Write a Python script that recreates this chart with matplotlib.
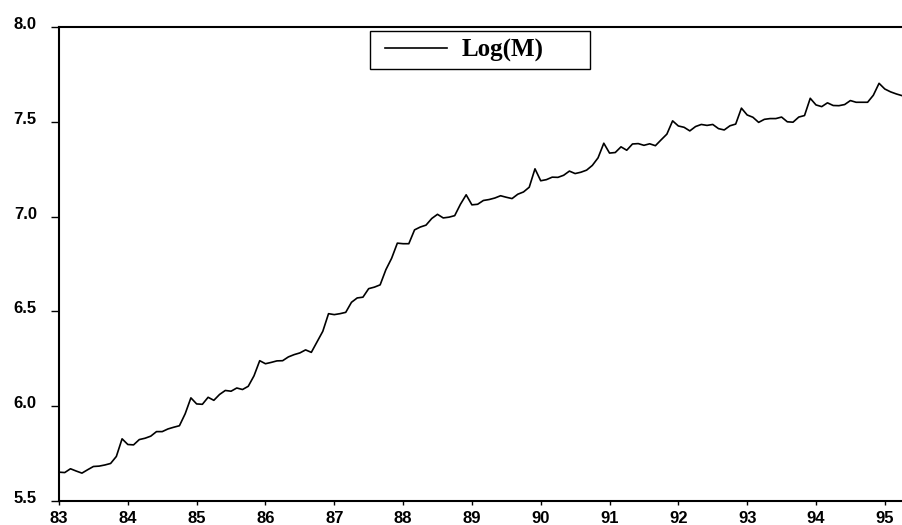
import numpy as np
import matplotlib.pyplot as plt
from matplotlib.legend_handler import HandlerLine2D
from matplotlib.transforms import ScaledTranslation

# monthly log money stock, 1983:01 onwards
start_year = 1983
log_m = [
    5.652, 5.650, 5.670, 5.658, 5.647, 5.665, 5.682, 5.684, 5.690, 5.698, 5.735, 5.828,  # 83
    5.798, 5.796, 5.824, 5.831, 5.842, 5.866, 5.866, 5.880, 5.889, 5.897, 5.960, 6.044,  # 84
    6.012, 6.010, 6.047, 6.031, 6.062, 6.083, 6.079, 6.096, 6.088, 6.105, 6.160, 6.240,  # 85
    6.224, 6.231, 6.239, 6.240, 6.260, 6.272, 6.281, 6.297, 6.284, 6.340, 6.395, 6.488,  # 86
    6.483, 6.488, 6.495, 6.548, 6.571, 6.575, 6.620, 6.628, 6.640, 6.720, 6.780, 6.860,  # 87
    6.857, 6.857, 6.930, 6.945, 6.955, 6.990, 7.012, 6.993, 6.997, 7.005, 7.065, 7.115,  # 88
    7.062, 7.065, 7.085, 7.090, 7.098, 7.110, 7.102, 7.095, 7.118, 7.130, 7.155, 7.252,  # 89
    7.189, 7.195, 7.208, 7.207, 7.218, 7.240, 7.227, 7.234, 7.245, 7.270, 7.310, 7.387,  # 90
    7.335, 7.338, 7.368, 7.350, 7.383, 7.385, 7.376, 7.384, 7.374, 7.405, 7.435, 7.505,  # 91
    7.478, 7.471, 7.452, 7.475, 7.486, 7.481, 7.486, 7.464, 7.457, 7.479, 7.488, 7.572,  # 92
    7.536, 7.524, 7.497, 7.513, 7.517, 7.517, 7.525, 7.500, 7.498, 7.525, 7.533, 7.624,  # 93
    7.589, 7.580, 7.600, 7.586, 7.585, 7.591, 7.612, 7.603, 7.603, 7.603, 7.640, 7.703,  # 94
    7.673, 7.658, 7.647, 7.638,  # 95
]
series_name = "Log(M)"

year_ticks = np.arange(1983, 1996)
year_labels = [f"{y % 100:02d}" for y in year_ticks]
level_ticks = [5.5, 6.0, 6.5, 7.0, 7.5, 8.0]

t = start_year + np.arange(len(log_m)) / 12.0

fig = plt.figure(figsize=(9.02, 5.25), dpi=100)
ax = fig.add_axes([59 / 902, 1 - 501 / 525, 1 - 59 / 902, 474 / 525])

ax.plot(t, log_m, color="black", lw=1.2, label=series_name)
ax.set_xlim(start_year, t[-1])
ax.set_ylim(5.5, 8.0)

ax.set_xticks(year_ticks)
ax.set_xticklabels(year_labels)
ax.set_yticks(level_ticks)
ax.set_yticklabels([f"{v:.1f}" for v in level_ticks])

for side in ["left", "bottom", "top"]:
    ax.spines[side].set_linewidth(1.5)
ax.spines["right"].set_visible(False)

ax.tick_params(axis="y", direction="out", length=6, width=1, pad=10, labelsize=12)
ax.tick_params(axis="x", direction="out", length=3, width=1, pad=4, labelsize=12)

# y labels sit a little above their ticks
lift = ScaledTranslation(0, 0.04, fig.dpi_scale_trans)
for lab in ax.get_yticklabels():
    lab.set_transform(lab.get_transform() + lift)
for lab in ax.get_xticklabels() + ax.get_yticklabels():
    lab.set_fontweight("bold")
    lab.set_family("Liberation Sans")

leg = ax.legend(
    loc="upper left",
    bbox_to_anchor=(370 / 902, 1 - 31 / 525, 220 / 902, 0),
    bbox_transform=fig.transFigure,
    mode="expand",
    frameon=True,
    fancybox=False,
    edgecolor="black",
    borderaxespad=0,
    handlelength=2.78,
    handletextpad=0.6,
    borderpad=0.3,
    handler_map={plt.Line2D: HandlerLine2D(xpad=0.28)},
    prop={"family": "Liberation Serif", "weight": "bold", "size": 18},
)
leg.get_frame().set_linewidth(1.0)
leg.get_frame().set_alpha(1)

fig.savefig("out.png", dpi=100)
